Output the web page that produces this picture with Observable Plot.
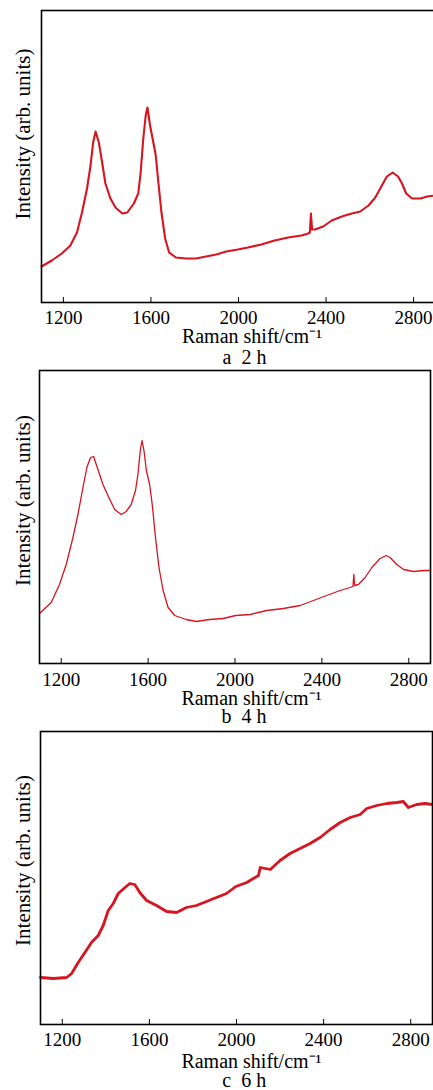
<!DOCTYPE html>
<html><head><meta charset="utf-8">
<script src="https://cdn.jsdelivr.net/npm/d3@7"></script>
<script src="https://cdn.jsdelivr.net/npm/@observablehq/plot@0.6"></script>
<style>
body{margin:0;background:#fff;}
#wrap{position:relative;width:433px;height:1090px;overflow:hidden;background:#fff;}
#wrap svg{position:absolute;left:0;background:transparent;}
</style></head><body><div id="wrap"></div>
<script>
// ---- data ----
const xTicks = [1200, 1600, 2000, 2400, 2800];
const xDomain = [1100, 2900];
const xLabel = "Raman shift/cm⁻¹";
const yLabel = "Intensity (arb. units)";
const captions = ["a\u00a0 2 h", "b\u00a0 4 h", "c\u00a0 6 h"];

const shiftA = [1100,1147,1193,1232,1262,1285,1308,1324,1336,1347,1362,1377,1392,1415,1438,1469,1492,1522,1542,1553,1565,1576,1584,1596,1611,1622,1634,1648,1665,1683,1714,1760,1806,1852,1898,1944,1997,2043,2104,2165,2227,2288,2318,2326,2331,2336,2349,2387,2426,2472,2518,2556,2594,2625,2655,2678,2704,2729,2747,2766,2793,2831,2862,2900];
const intA = [36,42,49,57,70,90,114,137,160,171,160,140,119,104,95,89,90,99,109,130,164,187,195,177,160,147,120,90,64,50,45,44,44,46,48,51,53,55,58,62,65,67,69,70,89,73,73,76,82,86,89,91,97,105,117,126,130,126,119,109,104,104,106,107];

const shiftB = [1100,1154,1192,1223,1254,1277,1300,1318,1335,1349,1369,1392,1415,1446,1476,1499,1522,1542,1553,1564,1572,1581,1592,1607,1619,1634,1650,1669,1692,1722,1776,1822,1883,1945,2003,2069,2146,2223,2300,2361,2422,2484,2530,2543,2547,2551,2568,2599,2630,2668,2696,2714,2745,2776,2822,2868,2900];
const intB = [50,61,79,99,126,149,176,196,206,207,194,179,168,154,149,152,159,173,189,213,223,213,193,179,159,126,96,73,56,48,44,42,44,45,48,49,53,55,58,63,68,73,76,77,89,78,79,86,96,105,108,106,99,94,92,93,93];

const shiftC = [1100,1159,1220,1243,1273,1304,1334,1365,1388,1411,1434,1457,1483,1510,1533,1556,1587,1633,1679,1725,1770,1816,1862,1908,1954,1997,2047,2101,2109,2155,2200,2246,2292,2338,2384,2430,2476,2522,2568,2598,2644,2690,2736,2766,2789,2827,2866,2900];
const intC = [47,46,47,51,62,72,82,89,99,114,121,131,136,141,140,132,124,119,113,112,117,119,123,127,131,138,142,149,157,155,164,171,176,181,187,195,202,207,210,216,219,221,222,223,217,220,221,220];

// ---- layout ----
const red = "#d7141f";
const font = "'Liberation Serif', 'Times New Roman', serif";
const panels = [
  {shift: shiftA, inten: intA, cap: captions[0], top: 0, height: 369, mt: 10, mb: 67, ml: 41, mr: -2, tickPad: 7.5, labDy: 34, labDx: 13.5, capDy: 55, capDx: 6, yDx: -18.3, yDy: -22.5, sw: 2.1},
  {shift: shiftB, inten: intB, cap: captions[1], top: 369, height: 361, mt: 1, mb: 67, ml: 39, mr: 3, tickPad: 9, labDy: 35, labDx: 16.5, capDy: 53, capDx: 9, yDx: -16.3, yDy: -16.5, sw: 1.3},
  {shift: shiftC, inten: intC, cap: captions[2], top: 730, height: 360, mt: 1, mb: 66, ml: 40, mr: 1, tickPad: 8, labDy: 37, labDx: 15, capDy: 56, capDx: 7.7, yDx: -17.3, yDy: -17.5, sw: 2.8}
];

const wrap = document.getElementById("wrap");
for (const p of panels) {
  const innerH = p.height - p.mt - p.mb;
  const data = p.shift.map((s, i) => ({shift: s, intensity: p.inten[i]}));
  const svg = Plot.plot({
    width: 433, height: p.height,
    marginTop: p.mt, marginBottom: p.mb, marginLeft: p.ml, marginRight: p.mr,
    style: {fontFamily: font, color: "black", background: "transparent", overflow: "visible"},
    x: {domain: xDomain},
    y: {domain: [0, innerH], axis: null},
    marks: [
      Plot.line(data, {x: "shift", y: "intensity", stroke: red, strokeWidth: p.sw, strokeLinejoin: "round"}),
      Plot.tickX(xTicks, {x: d => d, insetTop: innerH - 5, stroke: "black", strokeWidth: 1}),
      Plot.frame({stroke: "black", strokeWidth: 1.6}),
      Plot.axisX({ticks: xTicks, tickSize: 0, tickPadding: p.tickPad, fontSize: 19, label: null, tickFormat: d => String(d)}),
      Plot.text([xLabel], {frameAnchor: "bottom", dx: p.labDx, dy: p.labDy, lineAnchor: "middle", fontSize: 20, fill: "black"}),
      Plot.text([p.cap], {frameAnchor: "bottom", dx: p.capDx, dy: p.capDy, lineAnchor: "middle", fontSize: 20, fill: "black"}),
      Plot.text([yLabel], {frameAnchor: "left", textAnchor: "middle", rotate: -90, dx: p.yDx, dy: p.yDy, lineAnchor: "middle", fontSize: 21, fill: "black"})
    ]
  });
  svg.style.top = p.top + "px";
  wrap.appendChild(svg);
}
</script>
</body></html>
